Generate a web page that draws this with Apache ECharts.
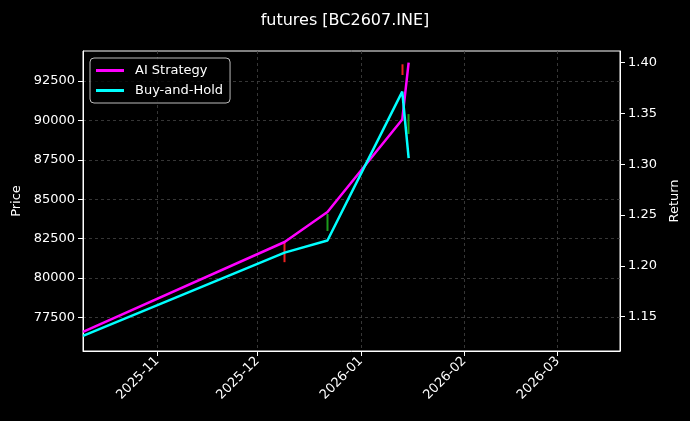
<!DOCTYPE html>
<html>
<head>
<meta charset="utf-8">
<script src="https://cdn.jsdelivr.net/npm/echarts@6/dist/echarts.min.js"></script>
<style>
  html, body { margin: 0; padding: 0; background: #000; }
  #chart { width: 690px; height: 421px; }
</style>
</head>
<body>
<div id="chart"></div>
<script>
// equity curves (right axis, Return)
const dates = ["2025-10-09 18", "2025-12-09 04", "2025-12-22 00", "2026-01-13 10", "2026-01-15 08"];
const aiStrategy = [1.135, 1.2235, 1.253, 1.344, 1.40];
const buyHold = [1.131, 1.213, 1.225, 1.3715, 1.306];

// trade bars on price axis: [date, open, close]
const barDates = ["2025-12-09 04", "2025-12-22 00", "2026-01-13 10", "2026-01-15 08"];
const barOpen = [82300, 82980, 93560, 89140];
const barClose = [81000, 84060, 92880, 90400];

const monthTicks = ["2025-11-01", "2025-12-01", "2026-01-01", "2026-02-01", "2026-03-01"];
const priceTicks = [77500, 80000, 82500, 85000, 87500, 90000, 92500];
const returnTicks = [1.15, 1.20, 1.25, 1.30, 1.35, 1.40];

// "YYYY-MM-DD" or "YYYY-MM-DD HH"
const ts = d => Date.UTC(+d.slice(0, 4), +d.slice(5, 7) - 1, +d.slice(8, 10), d.length > 10 ? +d.slice(11, 13) : 0);
const ym = v => {
  const d = new Date(v);
  return d.getUTCFullYear() + "-" + String(d.getUTCMonth() + 1).padStart(2, "0");
};
const font = "DejaVu Sans";
const gridLine = { color: "#444", type: [3, 3], width: 0.8 };

let chart = echarts.init(document.getElementById("chart"));
let option = {
  backgroundColor: "#000",
  animation: false,
  textStyle: { fontFamily: font },
  title: {
    text: "futures [BC2607.INE]",
    left: "center",
    top: 8,
    textStyle: { color: "#fff", fontSize: 16, fontWeight: "normal", fontFamily: font },
  },
  legend: {
    left: 90,
    top: 58,
    orient: "vertical",
    itemGap: 7,
    itemWidth: 28,
    itemHeight: 3,
    padding: [6, 7, 6, 6],
    backgroundColor: "rgba(0,0,0,0.8)",
    borderColor: "#bbb",
    borderWidth: 1,
    borderRadius: 4,
    icon: "rect",
    data: ["AI Strategy", "Buy-and-Hold"],
    textStyle: { color: "#fff", fontSize: 13, fontFamily: font, padding: [0, 0, 0, 6] },
  },
  grid: {
    left: 83,
    right: 70,
    top: 51,
    bottom: 70,
    show: true,
    borderColor: "#fff",
    borderWidth: 1,
    backgroundColor: "transparent",
  },
  xAxis: {
    type: "value",
    min: ts("2025-10-09 18"),
    max: ts("2026-03-19 16"),
    axisLine: { lineStyle: { color: "#fff" } },
    axisTick: { customValues: monthTicks.map(ts), length: 5, lineStyle: { color: "#fff" } },
    axisLabel: {
      customValues: monthTicks.map(ts),
      rotate: 45,
      color: "#fff",
      fontSize: 13,
      fontFamily: font,
      formatter: ym,
    },
    splitLine: { show: true, customValues: monthTicks.map(ts), lineStyle: gridLine },
  },
  yAxis: [
    {
      type: "value",
      name: "Price",
      nameLocation: "middle",
      nameGap: 57,
      nameTextStyle: { color: "#fff", fontSize: 13, fontFamily: font },
      min: 75362,
      max: 94404,
      axisLine: { show: true, lineStyle: { color: "#fff" } },
      axisTick: { show: true, customValues: priceTicks, length: 5, lineStyle: { color: "#fff" } },
      axisLabel: {
        customValues: priceTicks,
        color: "#fff",
        fontSize: 13,
        fontFamily: font,
        formatter: v => String(v),
      },
      splitLine: { show: true, customValues: priceTicks, lineStyle: gridLine },
    },
    {
      type: "value",
      name: "Return",
      nameLocation: "middle",
      nameGap: 46,
      nameTextStyle: { color: "#fff", fontSize: 13, fontFamily: font },
      min: 1.1162,
      max: 1.4115,
      position: "right",
      axisLine: { show: true, lineStyle: { color: "#fff" } },
      axisTick: { show: true, customValues: returnTicks, length: 5, lineStyle: { color: "#fff" } },
      axisLabel: {
        customValues: returnTicks,
        color: "#fff",
        fontSize: 13,
        fontFamily: font,
        formatter: v => v.toFixed(2),
      },
      splitLine: { show: false },
    },
  ],
  series: [
    {
      name: "bars",
      type: "candlestick",
      yAxisIndex: 0,
      barWidth: 3,
      itemStyle: {
        color: "#1c9c1c",
        borderColor: "#1c9c1c",
        color0: "#ee2020",
        borderColor0: "#ee2020",
        borderWidth: 0,
      },
      data: barDates.map((d, i) => [
        ts(d),
        barOpen[i],
        barClose[i],
        Math.min(barOpen[i], barClose[i]),
        Math.max(barOpen[i], barClose[i]),
      ]),
    },
    {
      name: "AI Strategy",
      type: "line",
      yAxisIndex: 1,
      symbol: "none",
      color: "#ff00ff",
      lineStyle: { width: 2.5, color: "#ff00ff" },
      data: dates.map((d, i) => [ts(d), aiStrategy[i]]),
    },
    {
      name: "Buy-and-Hold",
      type: "line",
      yAxisIndex: 1,
      symbol: "none",
      color: "#00ffff",
      lineStyle: { width: 2.5, color: "#00ffff" },
      data: dates.map((d, i) => [ts(d), buyHold[i]]),
    },
  ],
};
chart.setOption(option);
</script>
</body>
</html>
